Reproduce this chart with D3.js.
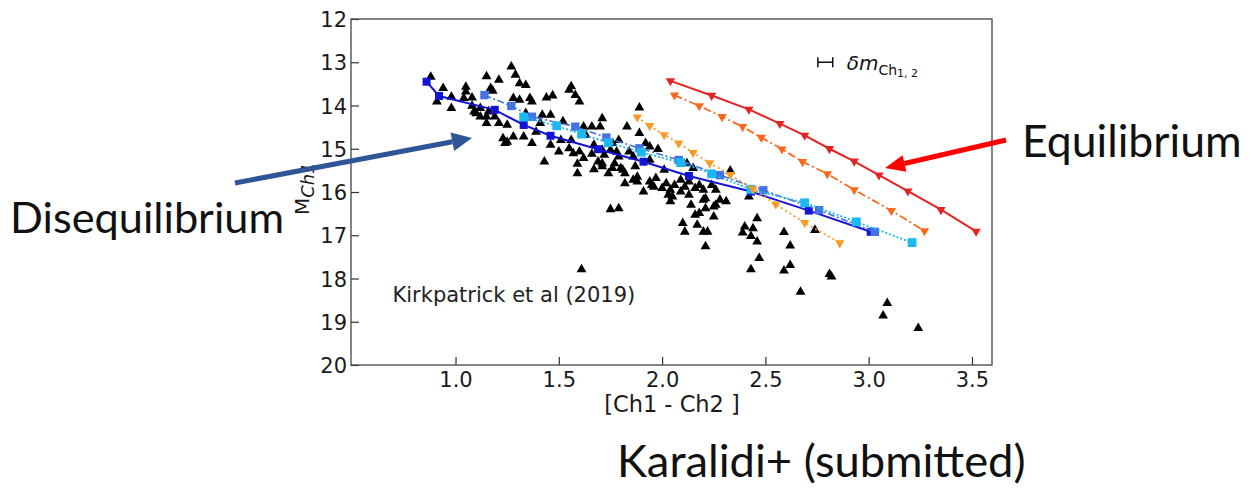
<!DOCTYPE html>
<html>
<head>
<meta charset="utf-8">
<script src="https://cdn.jsdelivr.net/npm/d3@7"></script>
<style>
  body { margin: 0; background: #fff; }
  svg { display: block; }
</style>
</head>
<body>
<svg id="drawing_region"></svg>
<script>
// ticks
const xTicks = [1.0, 1.5, 2.0, 2.5, 3.0, 3.5];
const yTicks = [12, 13, 14, 15, 16, 17, 18, 19, 20];

// Kirkpatrick et al (2019) objects : [Ch1 - Ch2], M_Ch1
const kirkPoints = [
  [0.88,13.34],[0.94,13.60],[0.91,13.91],[0.98,13.80],[0.98,14.06],[1.05,13.57],[1.05,13.68],
  [1.04,13.83],[1.08,13.82],[1.10,14.18],[1.12,14.06],[1.15,13.33],[1.15,14.26],[1.15,14.41],
  [1.19,14.26],[1.21,13.41],[1.17,13.60],[1.21,14.41],[1.25,14.45],[1.27,13.10],[1.29,13.29],
  [1.31,13.49],[1.34,13.53],[1.28,13.83],[1.31,13.87],[1.36,13.83],[1.34,14.18],[1.25,14.84],
  [1.28,14.72],[1.33,14.72],[1.37,14.87],[1.39,14.61],[1.18,13.66],[1.16,14.14],[1.08,14.01],
  [1.37,13.91],[1.44,13.82],[1.47,13.77],[1.41,14.41],[1.23,14.76],[1.09,14.14],[1.12,14.26],
  [1.55,13.64],[1.56,13.56],[1.58,13.76],[1.60,13.91],[1.42,14.22],[1.46,14.22],[1.52,14.37],
  [1.46,14.91],[1.50,15.07],[1.55,14.99],[1.60,15.07],[1.62,15.22],[1.43,15.30],[1.51,14.80],
  [1.63,14.68],[1.67,14.91],[1.66,14.49],[1.70,14.49],[1.71,14.30],[1.76,14.87],[1.78,15.07],
  [1.72,15.14],[1.59,15.57],[1.57,15.11],[1.67,15.48],[1.71,15.41],[1.74,15.57],[1.59,15.35],
  [1.62,14.49],[1.83,14.49],[1.89,14.05],[1.56,14.80],[1.76,15.45],[1.82,15.80],[1.88,15.65],
  [1.84,15.07],[1.86,15.18],[1.89,14.64],[1.92,14.87],[1.94,14.95],[1.98,15.01],[1.71,15.34],
  [1.77,15.34],[1.80,15.45],[1.82,15.57],[1.87,15.41],[1.91,15.99],[1.94,15.76],[1.96,15.88],
  [1.97,15.68],[2.00,15.91],[2.02,15.80],[2.04,15.95],[2.05,16.11],[2.06,15.84],[2.09,15.72],
  [2.09,15.99],[2.11,15.88],[2.13,16.07],[2.13,15.76],[2.16,15.91],[2.18,15.84],[2.20,15.95],
  [2.21,16.15],[2.24,15.84],[2.26,15.95],[1.88,15.76],[1.95,15.84],[2.12,15.34],[2.15,15.45],
  [2.03,16.07],[2.04,16.22],[2.10,16.72],[2.11,16.92],[2.14,16.30],[2.16,16.53],[2.17,16.76],
  [2.18,16.49],[2.20,16.92],[2.21,17.26],[2.22,16.92],[2.25,16.57],[2.26,16.30],[2.28,16.18],
  [2.31,16.22],[1.75,16.40],[1.79,16.38],[1.61,17.79],[2.20,16.18],[2.21,16.38],[2.25,16.34],
  [2.33,15.51],[2.42,16.11],[2.40,16.80],[2.39,16.94],[2.44,16.84],[2.46,16.61],[2.43,17.02],
  [2.46,17.15],[2.47,17.53],[2.43,17.79],[2.59,16.93],[2.62,17.24],[2.62,17.69],[2.59,17.82],
  [2.67,18.31],[2.74,16.88],[2.81,17.90],[2.82,17.96],[3.09,18.57],[3.07,18.86],[3.24,19.15],
  [1.24,14.87],[1.79,15.18],[1.81,15.49],[1.86,15.72],[1.79,14.80],[1.94,15.26],[2.01,15.49],
  [1.75,15.03],[1.71,15.03],[1.66,15.12],[1.69,15.30]
];

// model tracks (colour, magnitude)
const blueColor = [0.86, 0.92, 1.19, 1.33, 1.46, 1.69, 1.91, 2.13, 2.43, 2.71, 3.01];
const blueMag   = [13.45, 13.78, 14.10, 14.45, 14.70, 15.01, 15.30, 15.63, 15.99, 16.43, 16.92];

const royalColor = [1.14, 1.27, 1.37, 1.58, 1.73, 1.89, 2.08, 2.28, 2.49, 2.76, 3.03];
const royalMag   = [13.76, 14.01, 14.26, 14.49, 14.74, 14.99, 15.26, 15.61, 15.96, 16.42, 16.92];

const cyanColor = [1.33, 1.49, 1.61, 1.74, 1.90, 2.09, 2.24, 2.43, 2.69, 2.94, 3.21];
const cyanMag   = [14.27, 14.47, 14.66, 14.86, 15.08, 15.32, 15.58, 15.94, 16.25, 16.69, 17.17];

const orangeColor = [1.88, 1.94, 2.01, 2.08, 2.15, 2.23, 2.33, 2.44, 2.55, 2.69, 2.86];
const orangeMag   = [14.27, 14.47, 14.68, 14.87, 15.09, 15.33, 15.60, 15.93, 16.28, 16.71, 17.18];

const orangeredColor = [2.06, 2.18, 2.29, 2.39, 2.48, 2.58, 2.68, 2.80, 2.93, 3.11, 3.27];
const orangeredMag   = [13.76, 14.01, 14.26, 14.49, 14.74, 15.01, 15.30, 15.58, 15.95, 16.43, 16.90];

const redColor = [2.04, 2.24, 2.42, 2.57, 2.69, 2.81, 2.93, 3.05, 3.19, 3.35, 3.52];
const redMag   = [13.43, 13.77, 14.09, 14.42, 14.69, 15.00, 15.29, 15.61, 15.98, 16.41, 16.91];

// typical error bar
const errColor = 2.79;
const errMag = 13.0;
const errHalf = 0.036;

const config = {
  parent: '#drawing_region',
  width: 1251,
  height: 489,
  margin: { top: 19, right: 259, bottom: 124, left: 351 }
};

const svg = d3.select(config.parent)
  .attr('width', config.width)
  .attr('height', config.height);

const inner_width = config.width - config.margin.left - config.margin.right;
const inner_height = config.height - config.margin.top - config.margin.bottom;

const chart = svg.append('g')
  .attr('transform', `translate(${config.margin.left}, ${config.margin.top})`);

const xscale = d3.scaleLinear().domain([0.494, 3.597]).range([0, inner_width]);
const yscale = d3.scaleLinear().domain([12, 20]).range([0, inner_height]);

// axes (ticks point inwards like matplotlib direction='in')
const xaxis = d3.axisBottom(xscale).tickValues(xTicks).tickFormat(d3.format('.1f'))
  .tickSizeInner(-8).tickSizeOuter(0).tickPadding(7);
const yaxis = d3.axisLeft(yscale).tickValues(yTicks).tickFormat(d3.format('d'))
  .tickSizeInner(-8).tickSizeOuter(0).tickPadding(4);

const xaxis_group = chart.append('g')
  .attr('transform', `translate(0, ${inner_height})`)
  .call(xaxis);
const yaxis_group = chart.append('g').call(yaxis);

[xaxis_group, yaxis_group].forEach(g => {
  g.select('.domain').remove();
  g.selectAll('.tick line').attr('stroke', '#333').attr('stroke-width', 1.2);
  g.selectAll('.tick text')
    .attr('fill', '#1a1a1a')
    .style('font-family', 'DejaVu Sans')
    .style('font-size', '21px');
});
yaxis_group.selectAll('.tick text').attr('dy', '0.36em');

// frame
chart.append('rect')
  .attr('x', 0).attr('y', 0)
  .attr('width', inner_width).attr('height', inner_height)
  .attr('fill', 'none')
  .attr('stroke', '#444')
  .attr('stroke-width', 1.3);

// observed objects
const triUp = d3.symbol().type(d3.symbolTriangle).size(42);
chart.append('g').selectAll('path')
  .data(kirkPoints)
  .join('path')
  .attr('d', triUp)
  .attr('transform', d => `translate(${xscale(d[0])}, ${yscale(d[1])})`)
  .attr('fill', '#000');

// model tracks
const models = [
  { c: blueColor, m: blueMag, color: '#1414d8', dash: null, width: 2, marker: 'square', size: 64 },
  { c: royalColor, m: royalMag, color: '#4472e0', dash: '7,2.5,2,2.5', width: 1.6, marker: 'square', size: 70 },
  { c: cyanColor, m: cyanMag, color: '#1cb8f2', dash: '2,2', width: 1.8, marker: 'square', size: 78 },
  { c: orangeColor, m: orangeMag, color: '#f99a24', dash: '2,3', width: 1.8, marker: 'down', size: 38 },
  { c: orangeredColor, m: orangeredMag, color: '#f9681f', dash: '8,3,2,3', width: 1.8, marker: 'down', size: 38 },
  { c: redColor, m: redMag, color: '#e62222', dash: null, width: 2, marker: 'down', size: 38 }
];

const line = d3.line().x(d => xscale(d[0])).y(d => yscale(d[1]));

models.forEach(s => {
  const pts = s.c.map((v, i) => [v, s.m[i]]);
  const g = chart.append('g');
  g.append('path')
    .datum(pts)
    .attr('d', line)
    .attr('fill', 'none')
    .attr('stroke', s.color)
    .attr('stroke-width', s.width)
    .attr('stroke-dasharray', s.dash);
  const sym = d3.symbol()
    .type(s.marker === 'square' ? d3.symbolSquare : d3.symbolTriangle)
    .size(s.size);
  g.selectAll('path.mk')
    .data(pts)
    .join('path')
    .attr('class', 'mk')
    .attr('d', sym)
    .attr('transform', d => `translate(${xscale(d[0])}, ${yscale(d[1])})` + (s.marker === 'down' ? ' rotate(180)' : ''))
    .attr('fill', s.color);
});

// error bar indicator
const ex0 = xscale(errColor - errHalf), ex1 = xscale(errColor + errHalf), ey = yscale(errMag);
const eg = chart.append('g').attr('stroke', '#111').attr('stroke-width', 1.5);
eg.append('line').attr('x1', ex0).attr('x2', ex1).attr('y1', ey).attr('y2', ey);
eg.append('line').attr('x1', ex0).attr('x2', ex0).attr('y1', ey - 5).attr('y2', ey + 5);
eg.append('line').attr('x1', ex1).attr('x2', ex1).attr('y1', ey - 5).attr('y2', ey + 5);

const et = chart.append('text')
  .attr('x', ex1 + 14).attr('y', ey + 8)
  .attr('fill', '#111')
  .style('font-family', 'DejaVu Sans');
et.append('tspan').style('font-style', 'italic').style('font-size', '20px').text('δm');
et.append('tspan').style('font-size', '14px').attr('dy', 5).text('Ch');
et.append('tspan').style('font-size', '11px').attr('dy', 2).text('1, 2');

// reference label
chart.append('text')
  .attr('x', xscale(0.695)).attr('y', yscale(18.55))
  .attr('fill', '#222')
  .style('font-family', 'DejaVu Sans')
  .style('font-size', '21px')
  .text('Kirkpatrick et al (2019)');

// axis titles
svg.append('text')
  .attr('x', 672)
  .attr('y', 412)
  .attr('text-anchor', 'middle')
  .attr('fill', '#1a1a1a')
  .style('font-family', 'DejaVu Sans')
  .style('font-size', '22.5px')
  .text('[Ch1 - Ch2 ]');

const ylab = svg.append('text')
  .attr('transform', 'translate(309, 215) rotate(-90)')
  .attr('fill', '#1a1a1a')
  .style('font-family', 'DejaVu Sans');
ylab.append('tspan').style('font-size', '20px').text('M');
ylab.append('tspan').style('font-size', '18px').style('font-style', 'italic').attr('dy', 5).text('Ch1');

// slide annotations
function arrow(x1, y1, x2, y2, color, w, headLen, headW) {
  const ang = Math.atan2(y2 - y1, x2 - x1);
  const bx = x2 - headLen * Math.cos(ang), by = y2 - headLen * Math.sin(ang);
  svg.append('line')
    .attr('x1', x1).attr('y1', y1).attr('x2', bx).attr('y2', by)
    .attr('stroke', color).attr('stroke-width', w);
  const px = -Math.sin(ang) * headW / 2, py = Math.cos(ang) * headW / 2;
  svg.append('path')
    .attr('d', `M${x2},${y2}L${bx + px},${by + py}L${bx - px},${by - py}Z`)
    .attr('fill', color);
}
arrow(235, 183, 472, 138, '#2f5597', 5, 20, 19);
arrow(1006, 140, 885, 168, '#ff0000', 5, 20, 17);

const ann = [
  { t: 'Disequilibrium', x: 10, y: 233, s: 43.3 },
  { t: 'Equilibrium', x: 1022, y: 157, s: 44.5 },
  { t: 'Karalidi+ (submitted)', x: 617, y: 477, s: 45.3 }
];
svg.selectAll('text.ann')
  .data(ann)
  .join('text')
  .attr('class', 'ann')
  .attr('x', d => d.x).attr('y', d => d.y)
  .attr('fill', '#111')
  .style('font-family', 'Lato')
  .style('font-size', d => d.s + 'px')
  .text(d => d.t);
</script>
</body>
</html>
